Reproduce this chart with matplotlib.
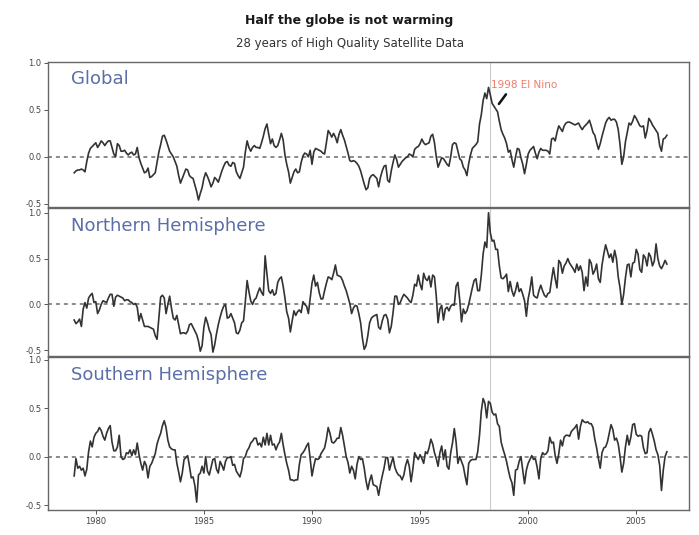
'''
Half the globe is not warming - satellite temperature anomalies
'''
import numpy as np
import matplotlib.pyplot as plt

# monthly anomalies, Jan 1979 .. Jun 2006
start_year = 1979
global_vals = [
    -0.17, -0.15, -0.14, -0.14, -0.13, -0.14, -0.16, -0.05, 0.04, 0.09, 0.11, 0.13,   # 1979
    0.15, 0.10, 0.13, 0.17, 0.15, 0.12, 0.15, 0.17, 0.17, 0.10, 0.03, 0.00,           # 1980
    0.14, 0.12, 0.06, 0.06, 0.07, 0.04, 0.02, 0.04, 0.05, 0.02, 0.03, 0.10,           # 1981
    -0.01, -0.07, -0.12, -0.17, -0.16, -0.12, -0.22, -0.21, -0.19, -0.17, -0.06, 0.05,  # 1982
    0.13, 0.22, 0.23, 0.18, 0.12, 0.06, 0.03, 0.00, -0.05, -0.10, -0.20, -0.28,       # 1983
    -0.23, -0.18, -0.13, -0.14, -0.20, -0.22, -0.23, -0.30, -0.37, -0.46, -0.39, -0.33,  # 1984
    -0.23, -0.17, -0.21, -0.26, -0.32, -0.28, -0.22, -0.24, -0.27, -0.21, -0.15, -0.10,  # 1985
    -0.06, -0.05, -0.09, -0.10, -0.06, -0.07, -0.16, -0.20, -0.23, -0.17, -0.11, 0.05,  # 1986
    0.17, 0.10, 0.06, 0.10, 0.12, 0.10, 0.10, 0.09, 0.15, 0.22, 0.30, 0.35,           # 1987
    0.24, 0.14, 0.19, 0.12, 0.10, 0.12, 0.18, 0.25, 0.18, 0.02, -0.08, -0.16,         # 1988
    -0.28, -0.22, -0.16, -0.13, -0.17, -0.16, -0.06, 0.01, 0.04, 0.03, 0.00, 0.07,    # 1989
    -0.08, 0.05, 0.09, 0.08, 0.07, 0.06, 0.04, 0.03, 0.15, 0.28, 0.25, 0.21,          # 1990
    0.25, 0.21, 0.15, 0.24, 0.29, 0.23, 0.18, 0.11, 0.04, -0.04, -0.05, -0.04,        # 1991
    -0.05, -0.07, -0.10, -0.15, -0.22, -0.29, -0.35, -0.33, -0.23, -0.20, -0.19, -0.21,  # 1992
    -0.23, -0.32, -0.22, -0.15, -0.10, -0.09, -0.25, -0.27, -0.15, -0.06, 0.02, -0.03,  # 1993
    -0.11, -0.08, -0.05, -0.03, -0.01, 0.00, 0.03, 0.02, 0.00, 0.08, 0.10, 0.11,      # 1994
    0.14, 0.19, 0.15, 0.13, 0.14, 0.15, 0.22, 0.24, 0.15, 0.00, -0.11, -0.06,         # 1995
    -0.01, -0.02, -0.05, -0.08, -0.10, 0.00, 0.13, 0.15, 0.14, 0.06, -0.02, -0.04,    # 1996
    -0.11, -0.14, -0.20, -0.07, 0.02, 0.09, 0.11, 0.13, 0.16, 0.35, 0.45, 0.60,       # 1997
    0.68, 0.62, 0.74, 0.66, 0.57, 0.54, 0.51, 0.48, 0.38, 0.29, 0.24, 0.20,           # 1998
    0.14, 0.05, 0.07, -0.03, -0.11, 0.00, 0.09, 0.08, -0.01, -0.08, -0.18, -0.08,     # 1999
    0.03, 0.07, 0.09, 0.11, 0.04, -0.02, 0.05, 0.09, 0.07, 0.07, 0.07, 0.06,          # 2000
    0.03, 0.19, 0.20, 0.17, 0.26, 0.33, 0.30, 0.27, 0.33, 0.36, 0.37, 0.37,           # 2001
    0.36, 0.35, 0.34, 0.35, 0.36, 0.32, 0.29, 0.32, 0.34, 0.36, 0.39, 0.33,           # 2002
    0.26, 0.23, 0.15, 0.08, 0.14, 0.22, 0.29, 0.36, 0.40, 0.42, 0.39, 0.40,           # 2003
    0.40, 0.37, 0.29, 0.13, -0.08, 0.00, 0.16, 0.26, 0.36, 0.34, 0.38, 0.44,          # 2004
    0.41, 0.37, 0.33, 0.32, 0.33, 0.20, 0.28, 0.41, 0.38, 0.34, 0.31, 0.28,           # 2005
    0.25, 0.12, 0.06, 0.19, 0.20, 0.23,                                               # 2006
]
north_vals = [
    -0.17, -0.21, -0.19, -0.16, -0.24, -0.05, 0.02, -0.04, 0.07, 0.10, 0.12, 0.02,    # 1979
    0.03, -0.10, -0.06, 0.00, 0.04, 0.03, 0.02, 0.07, 0.11, 0.11, -0.02, 0.08,        # 1980
    0.10, 0.09, 0.08, 0.07, 0.04, 0.05, 0.05, 0.03, 0.02, 0.00, 0.01, -0.03,          # 1981
    -0.18, -0.10, -0.17, -0.24, -0.24, -0.24, -0.25, -0.26, -0.27, -0.34, -0.38, -0.15,  # 1982
    0.08, 0.10, 0.07, -0.10, 0.00, 0.09, -0.04, -0.15, -0.17, -0.12, -0.22, -0.32,    # 1983
    -0.31, -0.31, -0.32, -0.29, -0.22, -0.21, -0.25, -0.29, -0.33, -0.40, -0.51, -0.45,  # 1984
    -0.25, -0.14, -0.20, -0.28, -0.33, -0.52, -0.44, -0.32, -0.22, -0.14, -0.07, -0.02,  # 1985
    0.00, -0.15, -0.14, -0.10, -0.15, -0.20, -0.31, -0.32, -0.28, -0.20, -0.18, 0.03,  # 1986
    0.26, 0.14, 0.04, 0.00, 0.05, 0.07, 0.13, 0.18, 0.13, 0.10, 0.53, 0.33,           # 1987
    0.15, 0.12, 0.16, 0.10, 0.12, 0.24, 0.28, 0.30, 0.20, 0.07, -0.08, -0.15,         # 1988
    -0.30, -0.18, -0.07, -0.12, -0.08, -0.06, -0.09, 0.03, 0.00, -0.02, -0.10, 0.07,  # 1989
    0.23, 0.32, 0.20, 0.24, 0.13, 0.06, 0.06, 0.15, 0.23, 0.30, 0.29, 0.27,           # 1990
    0.34, 0.43, 0.32, 0.31, 0.30, 0.26, 0.20, 0.15, 0.08, 0.01, -0.10, -0.04,         # 1991
    -0.01, -0.02, -0.10, -0.20, -0.37, -0.49, -0.45, -0.34, -0.20, -0.15, -0.13, -0.12,  # 1992
    -0.11, -0.25, -0.27, -0.18, -0.12, -0.11, -0.16, -0.31, -0.24, -0.09, 0.09, 0.09,  # 1993
    0.00, 0.02, 0.07, 0.11, 0.09, 0.07, 0.04, 0.02, 0.10, 0.22, 0.20, 0.32,           # 1994
    0.22, 0.16, 0.34, 0.28, 0.26, 0.31, 0.19, 0.32, 0.30, 0.09, -0.20, -0.05,         # 1995
    -0.01, -0.17, -0.05, -0.03, -0.07, -0.02, 0.00, -0.01, 0.20, 0.24, 0.05, -0.19,   # 1996
    -0.05, -0.10, -0.07, 0.00, 0.09, 0.18, 0.26, 0.28, 0.15, 0.15, 0.32, 0.55,        # 1997
    0.68, 0.62, 1.00, 0.78, 0.69, 0.70, 0.60, 0.60, 0.42, 0.29, 0.28, 0.30,           # 1998
    0.33, 0.14, 0.25, 0.15, 0.09, 0.15, 0.24, 0.14, 0.17, 0.11, 0.04, -0.13,          # 1999
    0.06, 0.16, 0.30, 0.10, 0.08, 0.07, 0.15, 0.21, 0.15, 0.10, 0.08, 0.12,           # 2000
    0.13, 0.27, 0.40, 0.28, 0.18, 0.48, 0.45, 0.34, 0.42, 0.45, 0.50, 0.45,           # 2001
    0.42, 0.39, 0.35, 0.44, 0.37, 0.42, 0.35, 0.15, 0.30, 0.20, 0.49, 0.45,           # 2002
    0.33, 0.37, 0.44, 0.28, 0.24, 0.43, 0.55, 0.65, 0.58, 0.51, 0.55, 0.46,           # 2003
    0.59, 0.50, 0.30, 0.18, 0.00, 0.11, 0.29, 0.43, 0.44, 0.30, 0.45, 0.46,           # 2004
    0.60, 0.55, 0.38, 0.35, 0.54, 0.51, 0.42, 0.56, 0.52, 0.42, 0.47, 0.66,           # 2005
    0.50, 0.42, 0.39, 0.43, 0.48, 0.44,                                               # 2006
]
south_vals = [
    -0.20, -0.02, -0.12, -0.10, -0.14, -0.12, -0.20, -0.13, 0.05, 0.16, 0.10, 0.20,   # 1979
    0.24, 0.26, 0.30, 0.27, 0.21, 0.17, 0.24, 0.29, 0.32, 0.15, 0.06, 0.06,           # 1980
    0.10, 0.22, 0.00, -0.03, -0.02, 0.04, 0.03, 0.07, 0.01, 0.07, 0.02, 0.14,         # 1981
    0.02, -0.07, -0.14, -0.05, -0.09, -0.22, -0.10, -0.07, -0.02, 0.03, 0.13, 0.19,   # 1982
    0.24, 0.32, 0.37, 0.30, 0.17, 0.10, 0.08, 0.07, 0.07, -0.07, -0.16, -0.26,        # 1983
    -0.17, -0.03, -0.01, 0.01, -0.10, -0.22, -0.21, -0.30, -0.47, -0.19, -0.17, -0.10,  # 1984
    -0.17, 0.00, -0.15, -0.19, -0.11, -0.03, -0.02, -0.13, -0.17, -0.05, -0.09, -0.14,  # 1985
    -0.05, -0.01, -0.01, 0.00, -0.09, -0.08, -0.15, -0.18, -0.21, -0.14, -0.02, 0.00,  # 1986
    0.06, 0.09, 0.14, 0.16, 0.19, 0.19, 0.12, 0.14, 0.10, 0.20, 0.12, 0.24,           # 1987
    0.12, 0.22, 0.12, 0.13, 0.07, 0.12, 0.15, 0.24, 0.12, 0.02, -0.07, -0.14,         # 1988
    -0.24, -0.24, -0.25, -0.24, -0.24, -0.08, 0.02, 0.04, 0.07, 0.11, 0.14, -0.02,    # 1989
    -0.20, -0.10, -0.02, -0.03, -0.02, 0.03, 0.06, 0.09, 0.18, 0.30, 0.24, 0.15,      # 1990
    0.14, 0.16, 0.19, 0.19, 0.30, 0.22, 0.11, 0.00, -0.06, -0.17, -0.10, -0.14,       # 1991
    -0.23, -0.08, 0.00, -0.03, -0.02, -0.12, -0.25, -0.34, -0.25, -0.19, -0.29, -0.30,  # 1992
    -0.31, -0.40, -0.29, -0.20, -0.12, -0.01, -0.01, -0.14, -0.07, -0.01, -0.11, -0.16,  # 1993
    -0.19, -0.20, -0.24, -0.19, -0.09, -0.03, -0.10, -0.26, -0.13, 0.04, 0.00, -0.03,  # 1994
    0.02, -0.02, -0.07, 0.05, 0.03, 0.09, 0.18, 0.13, 0.04, -0.02, -0.10, 0.04,       # 1995
    0.11, -0.03, 0.07, -0.10, -0.13, 0.04, 0.14, 0.29, 0.15, -0.07, 0.00, -0.05,      # 1996
    -0.10, -0.20, -0.29, -0.07, -0.04, -0.03, -0.03, -0.03, 0.05, 0.22, 0.47, 0.60,   # 1997
    0.55, 0.40, 0.57, 0.55, 0.46, 0.43, 0.44, 0.34, 0.31, 0.15, 0.08, 0.02,           # 1998
    -0.05, -0.14, -0.22, -0.27, -0.40, -0.14, -0.13, -0.05, 0.00, -0.14, -0.28, -0.14,  # 1999
    -0.07, -0.03, 0.01, -0.03, -0.02, -0.11, -0.23, -0.02, 0.04, 0.02, 0.03, 0.06,    # 2000
    0.20, 0.14, 0.15, 0.01, -0.07, 0.03, 0.17, 0.11, 0.20, 0.22, 0.22, 0.21,          # 2001
    0.26, 0.28, 0.30, 0.33, 0.18, 0.31, 0.38, 0.36, 0.35, 0.36, 0.34, 0.34,           # 2002
    0.30, 0.18, 0.09, -0.02, -0.12, 0.04, 0.09, 0.10, 0.15, 0.24, 0.33, 0.28,         # 2003
    0.17, 0.19, 0.13, 0.00, -0.16, -0.07, 0.10, 0.22, 0.12, 0.20, 0.33, 0.34,         # 2004
    0.23, 0.21, 0.22, 0.21, 0.09, 0.03, 0.04, 0.25, 0.29, 0.23, 0.16, 0.07,           # 2005
    0.02, -0.09, -0.35, -0.14, 0.00, 0.05,                                            # 2006
]

panel_names = ['Global', 'Northern Hemisphere', 'Southern Hemisphere']
panel_series = [global_vals, north_vals, south_vals]
panel_ylims = [(-0.535, 1.01), (-0.56, 1.05), (-0.55, 1.03)]
year_ticks = [1980, 1985, 1990, 1995, 2000, 2005]
elnino_year = 1998.25

fig = plt.figure(figsize=(6.99, 5.35), dpi=100)
fig.text(0.5, 0.962, 'Half the globe is not warming', ha='center', va='center',
         fontsize=9, fontweight='bold', color='#1a1a1a')
fig.text(0.5, 0.918, '28 years of High Quality Satellite Data', ha='center',
         va='center', fontsize=8.5, color='#333333')

# panel boxes in figure fractions [left, bottom, width, height]
boxes = [[0.069, 0.613, 0.917, 0.271],
         [0.069, 0.335, 0.917, 0.276],
         [0.069, 0.047, 0.917, 0.286]]

for i, (name, vals) in enumerate(zip(panel_names, panel_series)):
    ax = fig.add_axes(boxes[i])
    t = start_year + np.arange(len(vals)) / 12.0
    ax.axvline(elnino_year, color='#cccccc', lw=0.8, zorder=1)
    ax.axhline(0.0, color='#808080', lw=1.3, ls=(0, (2.2, 2.2)), zorder=2)
    ax.plot(t, vals, color='#333333', lw=1.2, zorder=3)
    ax.set_xlim(1977.8, 2007.45)
    ax.set_ylim(*panel_ylims[i])
    ax.set_yticks([-0.5, 0.0, 0.5, 1.0])
    ax.set_yticklabels(['-0.5', '0.0', '0.5', '1.0'])
    ax.set_xticks(year_ticks)
    if i < 2:
        ax.set_xticklabels([])
    ax.tick_params(direction='out', length=3, width=0.7, colors='#555555',
                   labelsize=6, labelcolor='#444444', pad=2)
    for sp in ax.spines.values():
        sp.set_color('#666666')
        sp.set_linewidth(1.0)
    ax.text(0.035, 0.88, name, transform=ax.transAxes, ha='left', va='center',
            fontsize=13, color='#5b6ea8')
    if i == 0:
        ax.annotate('', xy=(1998.57, 0.54), xytext=(1999.05, 0.69),
                    arrowprops=dict(arrowstyle='-', color='#111111', lw=1.8))
        ax.text(1998.3, 0.77, '1998 El Nino', ha='left', va='center',
                fontsize=7.5, color='#f07c6c')

fig.savefig('out.png', dpi=100)
